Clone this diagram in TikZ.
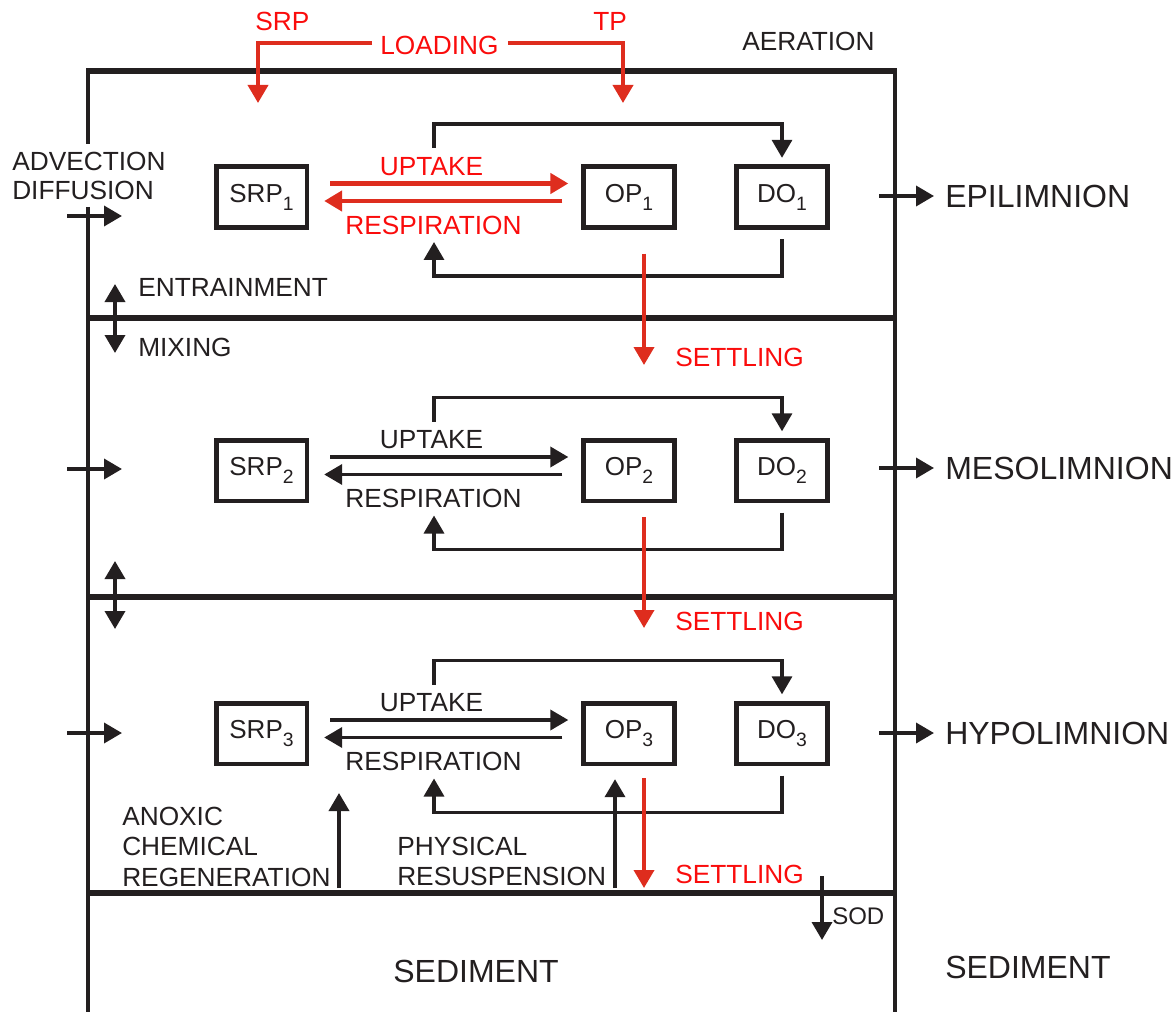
\documentclass[tikz,border=0pt]{standalone}
\usepackage{fontspec}
\setmainfont{Liberation Sans}
\usetikzlibrary{arrows.meta,calc}
\definecolor{ink}{RGB}{35,31,32}
\definecolor{redarr}{RGB}{222,45,30}
\definecolor{redtxt}{RGB}{250,12,12}
\newcommand\sbs[1]{\raisebox{-6pt}{\fontsize{14.5}{14.5}\selectfont #1}}
\begin{document}
\begin{tikzpicture}[x=0.75pt,y=-0.75pt,
  lbl/.style={font=\fontsize{19.7}{23}\selectfont, text=ink, inner sep=0pt},
  big/.style={font=\fontsize{24}{28}\selectfont, text=ink, inner sep=0pt},
  rlbl/.style={lbl, text=redtxt},
  box/.style={draw=ink, line width=3.5pt, minimum width=68pt, minimum height=45.5pt, inner sep=0pt, font=\fontsize{19.5}{23}\selectfont, text=ink},
  tip/.style={-{Triangle[length=13.5pt,width=15pt]}},
  arr/.style={draw=ink, line width=2.7pt, tip},
  rarr/.style={draw=redarr, line width=2.8pt, tip},
  dbl/.style={draw=ink, line width=2.7pt, {Triangle[length=13.5pt,width=15pt]}-{Triangle[length=13.5pt,width=15pt]}},
  hline/.style={draw=ink, line width=4.1pt},
  vline/.style={draw=ink, line width=3.4pt}]
\useasboundingbox (0,0) rectangle (1176,1012);

% frame
\draw[vline] (88,69) -- (88,144);
\draw[vline] (88,207) -- (88,1012);
\draw[vline] (895,69) -- (895,1012);
\foreach \yy in {71,318,597,893} \draw[hline] (86.3,\yy) -- (896.7,\yy);

% top labels
\node[rlbl, anchor=west] (srpl) at (255,21) {SRP};
\node[rlbl, anchor=west] (tpl) at (593,21) {TP};
\node[rlbl, anchor=west] (loading) at (380,45) {LOADING};
\node[lbl, anchor=west] (aer) at (742,41) {AERATION};
\coordinate (srpin) at (258,103);
\coordinate (tpin) at (623,103);
\draw[rarr] ($(loading.west)+(-8,-2)$) -| (srpin);
\draw[rarr] ($(loading.east)+(9,-2)$) -| (tpin);

% left side
\node[lbl, anchor=west, align=left, font=\fontsize{19.7}{21.4}\selectfont] (adv) at (12,176) {ADVECTION\\DIFFUSION};
\node[lbl, anchor=west] (ent) at (138,287) {ENTRAINMENT};
\node[lbl, anchor=west] (mix) at (138,347) {MIXING};
\coordinate (mx1a) at (115,284); \coordinate (mx1b) at (115,353);
\coordinate (mx2a) at (115,561); \coordinate (mx2b) at (115,629);
\draw[dbl] (mx1a) -- (mx1b);
\draw[dbl] (mx2a) -- (mx2b);
\foreach \i/\yy in {1/216,2/469,3/733}{
  \coordinate (lin\i) at (67,\yy);
  \coordinate (lout\i) at (122,\yy);
  \draw[arr] (lin\i) -- (lout\i);
}

% layers
\foreach \i/\c/\ac/\tc/\lw in {1/197/redarr/redtxt/3.4pt, 2/470.5/ink/ink/2.7pt, 3/733.5/ink/ink/2.7pt}{
  \node[box] (srp\i) at (261.5,\c) {SRP\sbs{\i}};
  \node[box] (op\i) at (629,\c) {OP\sbs{\i}};
  \node[box] (do\i) at (782,\c) {DO\sbs{\i}};
  \node[lbl, text=\tc] (up\i) at (431.5,\c-30.5) {UPTAKE};
  \node[lbl, text=\tc] (re\i) at (433.5,\c+28) {RESPIRATION};
  \draw[arr, draw=\ac, line width=\lw] ($(srp\i.east)+(21,-13.5)$) -- ($(op\i.west)+(-13,-13.5)$);
  \draw[arr, draw=\ac, line width=\lw] ($(op\i.west)+(-19,4)$) -- ($(srp\i.east)+(15,4)$);
  \coordinate (tl\i) at (434,\c-49);
  \draw[arr, line width=2.5pt] (tl\i) -- (434,\c-73) -| ($(do\i.north)+(0,-6.5)$);
  \coordinate (bl\i) at (434,\c+45);
  \draw[arr, line width=2.5pt] ($(do\i.south)+(0,9.5)$) -- (782,\c+79) -| (bl\i);
}

% right labels
\node[big, anchor=west] (epi) at (945,196) {EPILIMNION};
\node[big, anchor=west] (meso) at (945,468) {MESOLIMNION};
\node[big, anchor=west] (hypo) at (945,733) {HYPOLIMNION};
\node[big, anchor=west] (sedr) at (945,967) {SEDIMENT};
\foreach \n/\yy in {epi/196,meso/468,hypo/733}{
  \coordinate (rin\n) at (879,\yy);
  \draw[arr] (rin\n) -- ($(\n.west)+(-11,0)$);
}

% settling
\node[rlbl, anchor=west] (set1) at (675,357) {SETTLING};
\node[rlbl, anchor=west] (set2) at (675,621) {SETTLING};
\node[rlbl, anchor=west] (set3) at (675,874) {SETTLING};
\draw[rarr] ($(op1.south)+(15,24)$) -- ($(set1.west)+(-31,8)$);
\draw[rarr] ($(op2.south)+(15,14)$) -- ($(set2.west)+(-31,7)$);
\draw[rarr] ($(op3.south)+(15,12)$) -- ($(set3.west)+(-31,14)$);

% bottom processes
\node[lbl, anchor=west, align=left, font=\fontsize{19.7}{22.9}\selectfont] (anox) at (122,846.5) {ANOXIC\\CHEMICAL\\REGENERATION};
\node[lbl, anchor=west, align=left, font=\fontsize{19.7}{22.9}\selectfont] (phys) at (397,861.5) {PHYSICAL\\RESUSPENSION};
\coordinate (an0) at (339,888);
\coordinate (an1) at (339,793);
\draw[arr] (an0) -- (an1);
\coordinate (ph0) at (615,888);
\draw[arr] (ph0) -- ($(op3.south)+(-14,13)$);
\node[lbl, anchor=west, font=\fontsize{18}{22}\selectfont] (sod) at (832,916) {SOD};
\coordinate (sod0) at (822,876);
\draw[arr] (sod0) -- ($(sod.west)+(-10,24)$);
\node[big] (sedi) at (476,971) {SEDIMENT};
\end{tikzpicture}
\end{document}
